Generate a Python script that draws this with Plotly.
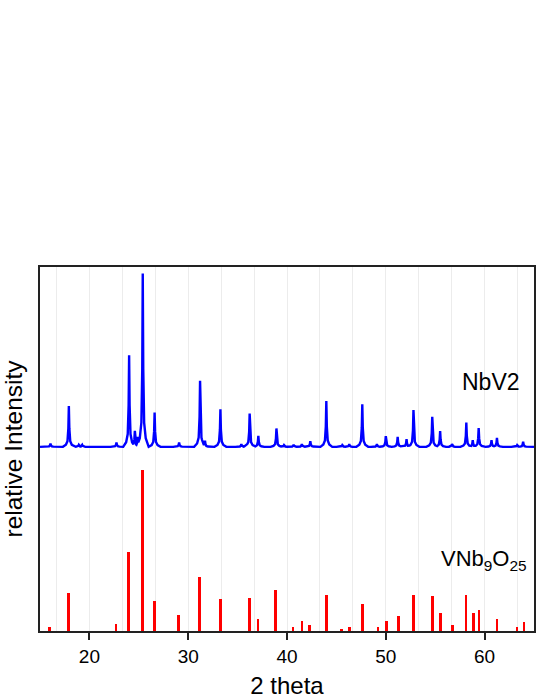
import numpy as np
import plotly.graph_objects as go

# Reference stick pattern (VNb9O25), relative intensity (max = 100)
ref_two_theta = [15.96, 17.88, 22.70, 23.92, 25.37, 26.58, 28.98, 31.17, 33.30, 36.19,
                 37.07, 38.82, 40.61, 41.52, 42.30, 43.98, 45.50, 46.31, 47.62, 49.20,
                 50.05, 51.30, 52.80, 54.74, 55.55, 56.73, 58.12, 58.86, 59.43, 61.25,
                 63.28, 63.99]
ref_intensity = [2.7, 23.4, 4.6, 49.3, 100.0, 18.6, 9.7, 33.3, 19.7, 20.5,
                 7.5, 25.5, 2.5, 6.4, 3.5, 22.4, 1.4, 2.5, 16.6, 2.5,
                 6.4, 9.5, 22.4, 21.5, 11.4, 3.5, 22.4, 11.4, 13.2, 7.5,
                 2.5, 5.4]

# Measured pattern (NbV2) peaks, relative intensity above background (max = 100)
meas_two_theta = [16.06, 17.92, 18.93, 19.27, 22.74, 24.02, 24.60, 24.90, 25.40, 26.60,
                  29.08, 31.20, 31.70, 33.26, 35.38, 36.22, 37.10, 38.93, 39.70, 40.67,
                  41.50, 42.36, 43.98, 45.60, 46.30, 47.62, 49.10, 50.00, 51.20, 52.10,
                  52.80, 54.70, 55.50, 56.70, 58.15, 58.80, 59.40, 60.70, 61.25, 63.30,
                  63.90]
meas_intensity = [1.9, 23.6, 1.2, 1.2, 2.5, 52.9, 9.2, 5.8, 100.0, 19.8,
                  2.5, 38.1, 3.5, 21.7, 1.5, 19.2, 6.3, 10.6, 1.0, 1.3,
                  1.5, 3.3, 26.4, 1.0, 1.5, 24.6, 1.5, 6.2, 5.8, 4.4,
                  21.2, 17.3, 9.1, 1.5, 14.0, 3.9, 10.8, 3.9, 5.2, 1.0,
                  2.9]

x_tick_values = [20, 30, 40, 50, 60]

# peak shape template (styling of each measured reflection)
shape_dx = np.array([-0.6, -0.3, -0.14, -0.05, 0.0, 0.05, 0.14, 0.3, 0.6])
shape_frac = np.array([0.0, 0.05, 0.14, 0.45, 1.0, 0.45, 0.14, 0.05, 0.0])

grid = [15.0, 65.0]
for p in meas_two_theta:
    grid.extend(list(p + shape_dx))
grid = np.unique(np.clip(np.array(grid), 15.0, 65.0))
profile = np.zeros_like(grid)
for p, h in zip(meas_two_theta, meas_intensity):
    profile = np.maximum(profile, np.interp(grid, p + shape_dx, h * shape_frac, left=0, right=0))

fig = go.Figure()
fig.add_trace(go.Bar(x=ref_two_theta, y=ref_intensity, width=0.28,
                     marker=dict(color="#ff0000", line=dict(width=0)),
                     yaxis="y", showlegend=False))
fig.add_trace(go.Scatter(x=grid, y=profile, mode="lines",
                         line=dict(color="#0000ff", width=2.4),
                         yaxis="y2", showlegend=False))

font_family = "Liberation Sans, Arial, sans-serif"
fig.update_layout(
    width=540, height=699,
    margin=dict(l=40, r=6, t=267, b=68, autoexpand=False),
    paper_bgcolor="white", plot_bgcolor="white",
    font=dict(family=font_family, color="black"),
    bargap=0,
    xaxis=dict(range=[15, 65], tickmode="array", tickvals=x_tick_values,
               ticks="outside", ticklen=7, tickwidth=2, tickcolor="#222",
               tickfont=dict(size=19), showgrid=True, gridcolor="#ececec", gridwidth=1,
               minor=dict(dtick=10/3, tick0=0, showgrid=True, gridcolor="#ececec", ticks=""),
               showline=True, mirror=True, linecolor="#222", linewidth=2, zeroline=False,
               title=dict(text="2 theta", font=dict(size=24), standoff=14)),
    yaxis=dict(range=[0, 226.3], showgrid=False, showticklabels=False, ticks="",
               showline=True, mirror=True, linecolor="#222", linewidth=2, zeroline=False,
               title=dict(text="relative Intensity", font=dict(size=24.5), standoff=15)),
    yaxis2=dict(range=[-106.3, 103.8], overlaying="y", visible=False),
    annotations=[
        dict(text="NbV2", x=63.8, y=0.684, xref="x", yref="paper",
             xanchor="right", yanchor="middle", showarrow=False, font=dict(size=23)),
        dict(text="VNb<sub>9</sub>O<sub>25</sub>", x=64.45, y=0.195, xref="x", yref="paper",
             xanchor="right", yanchor="middle", showarrow=False, font=dict(size=22)),
    ],
)

fig.write_html("out.html", config={"displayModeBar": False},
               post_script="document.body.style.margin='0px';")
